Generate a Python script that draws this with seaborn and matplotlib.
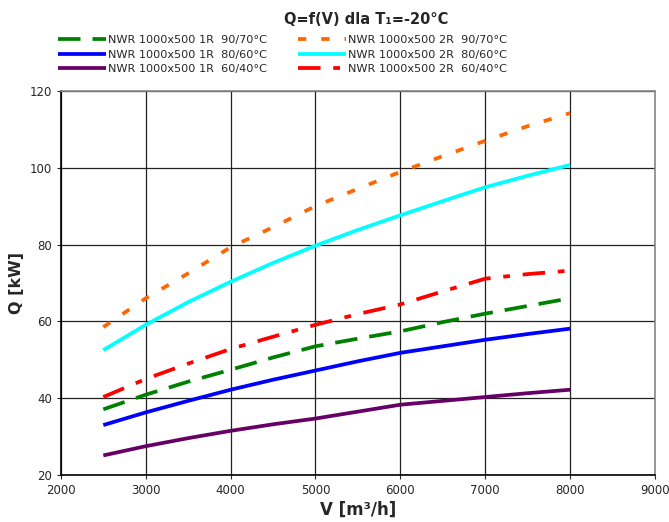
import pandas as pd
import seaborn as sns
import matplotlib.pyplot as plt

# Flow V [m3/h] and heat output Q [kW]
V = [2500, 3000, 3500, 4000, 4500, 5000, 5500, 6000, 6500, 7000, 7500, 8000]

q_1r_90_70 = [37.1, 40.9, 44.3, 47.4, 50.6, 53.5, 55.5, 57.4, 59.8, 62.0, 64.0, 66.0]
q_1r_80_60 = [33.0, 36.3, 39.3, 42.2, 44.8, 47.2, 49.6, 51.8, 53.5, 55.2, 56.7, 58.1]
q_1r_60_40 = [25.1, 27.5, 29.6, 31.5, 33.2, 34.7, 36.5, 38.3, 39.3, 40.3, 41.3, 42.2]
q_2r_90_70 = [58.5, 66.0, 72.5, 79.3, 84.5, 90.0, 94.5, 98.9, 103.0, 107.0, 110.8, 114.2]
q_2r_80_60 = [52.5, 59.1, 65.0, 70.3, 75.2, 79.7, 83.8, 87.6, 91.3, 94.9, 97.9, 100.7]
q_2r_60_40 = [40.3, 45.0, 49.0, 52.8, 56.0, 59.1, 61.9, 64.4, 67.8, 71.1, 72.3, 73.2]

labels = [
    'NWR 1000x500 1R  90/70°C',
    'NWR 1000x500 1R  80/60°C',
    'NWR 1000x500 1R  60/40°C',
    'NWR 1000x500 2R  90/70°C',
    'NWR 1000x500 2R  80/60°C',
    'NWR 1000x500 2R  60/40°C',
]
series = [q_1r_90_70, q_1r_80_60, q_1r_60_40, q_2r_90_70, q_2r_80_60, q_2r_60_40]
colors = ['#008000', '#0000ff', '#660066', '#ff6600', '#00ffff', '#ff0000']
dashes = [(6.0, 3.2), '', '', (2.2, 4.0), '', (6.0, 3.4, 1.8, 3.4)]

df = pd.concat([pd.DataFrame({'V': V, 'Q': s, 'serie': l}) for s, l in zip(series, labels)])

sns.set_style('white')
plt.rcParams['font.family'] = ['DejaVu Sans']

fig = plt.figure(figsize=(6.69, 5.22), dpi=100)
ax = fig.add_axes([0.091, 0.09, 0.888, 0.736])

sns.lineplot(data=df, x='V', y='Q', hue='serie', style='serie',
             palette=dict(zip(labels, colors)), dashes=dict(zip(labels, dashes)),
             linewidth=2.7, ax=ax, legend=False)
for line in ax.get_lines():
    line.set_solid_capstyle('butt')
    line.set_dash_capstyle('butt')

ax.set_xlim(2000, 9000)
ax.set_ylim(20, 120)
ax.set_xticks(range(2000, 9001, 1000))
ax.set_yticks(range(20, 121, 20))
ax.grid(True, color='#222222', linewidth=0.9)
ax.tick_params(axis='both', labelsize=8.5, length=3, direction='out', bottom=True, left=True)
for side in ['left', 'bottom']:
    ax.spines[side].set_color('black')
    ax.spines[side].set_linewidth(1.2)
for side in ['top', 'right']:
    ax.spines[side].set_color('#888888')
    ax.spines[side].set_linewidth(1.2)

ax.set_xlabel('V [m³/h]', fontsize=12, fontweight='bold', labelpad=3)
ax.set_ylabel('Q [kW]', fontsize=11.5, fontweight='bold', labelpad=4)

fig.text(0.548, 0.962, 'Q=f(V) dla T₁=-20°C', ha='center', va='center',
         fontsize=10.5, fontweight='bold')

fig.legend(handles=ax.get_lines(), labels=labels, ncol=2, loc='upper left',
           bbox_to_anchor=(0.086, 0.933), frameon=False, fontsize=8.1,
           handlelength=4.3, handletextpad=0.15, labelspacing=0.42,
           columnspacing=2.8, borderaxespad=0, borderpad=0)

fig.savefig('out.png', dpi=100)
